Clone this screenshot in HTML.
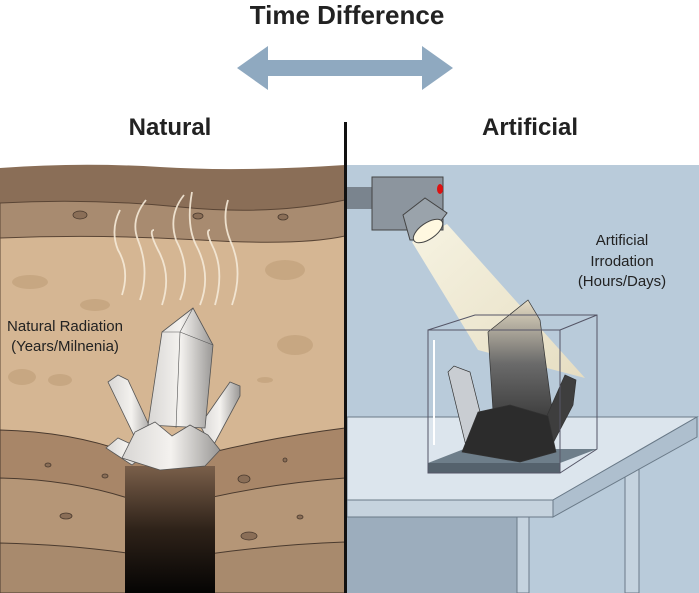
<!DOCTYPE html>
<html><head><meta charset="utf-8"><style>
html,body{margin:0;padding:0;background:#fff;}
svg{display:block;}
text{font-family:"Liberation Sans",sans-serif;}
</style></head><body>
<svg width="699" height="593" viewBox="0 0 699 593" xmlns="http://www.w3.org/2000/svg">
<defs>
<linearGradient id="shaft" x1="0" y1="0" x2="0" y2="1"><stop offset="0" stop-color="#7a5f4a"/><stop offset="0.5" stop-color="#2e2219"/><stop offset="1" stop-color="#050403"/></linearGradient>
<linearGradient id="cry" x1="0" y1="0" x2="1" y2="0"><stop offset="0" stop-color="#d8d6d4"/><stop offset="0.5" stop-color="#f4f2ef"/><stop offset="1" stop-color="#9a9896"/></linearGradient>
<linearGradient id="beam" x1="0" y1="0" x2="1" y2="1"><stop offset="0" stop-color="#fbf6e2"/><stop offset="1" stop-color="#eadfc0"/></linearGradient>
<linearGradient id="dark" x1="0" y1="0" x2="0" y2="1"><stop offset="0" stop-color="#e6dcc4"/><stop offset="0.45" stop-color="#6a6a6a"/><stop offset="1" stop-color="#2a2a2a"/></linearGradient>
</defs>
<text x="347" y="24" font-size="26" font-weight="bold" text-anchor="middle" fill="#222">Time Difference</text>
<polygon points="237,68 268,46 268,60 422,60 422,46 453,68 422,90 422,76 268,76 268,90" fill="#8fa9c0"/>
<text x="170" y="135" font-size="24" font-weight="bold" text-anchor="middle" fill="#222">Natural</text>
<text x="530" y="135" font-size="24" font-weight="bold" text-anchor="middle" fill="#222">Artificial</text>

<path d="M0,168 Q80,162 160,167 T345,165 L345,593 L0,593Z" fill="#8a6e57"/>
<path d="M0,203 Q90,198 180,207 T345,200 L345,593 L0,593Z" fill="#a88b70" stroke="#5a4535" stroke-width="1"/>
<path d="M0,238 Q100,234 200,240 T345,236 L345,593 L0,593Z" fill="#d5b693" stroke="#5a4535" stroke-width="1"/>
<path d="M0,430 Q90,432 160,466 Q250,440 345,428 L345,593 L0,593Z" fill="#a88668" stroke="#4a3a2e" stroke-width="1"/>
<path d="M0,478 Q90,480 160,510 Q250,485 345,478 L345,593 L0,593Z" fill="#b59677" stroke="#4a3a2e" stroke-width="1"/>
<path d="M0,543 Q90,545 170,560 Q260,545 345,542 L345,593 L0,593Z" fill="#a88a6d" stroke="#4a3a2e" stroke-width="1"/>
<rect x="125" y="466" width="90" height="127" fill="url(#shaft)"/>
<g fill="#c4a47f" opacity="0.8">
<ellipse cx="30" cy="282" rx="18" ry="7"/><ellipse cx="95" cy="305" rx="15" ry="6"/><ellipse cx="285" cy="270" rx="20" ry="10"/><ellipse cx="295" cy="345" rx="18" ry="10"/><ellipse cx="22" cy="377" rx="14" ry="8"/><ellipse cx="60" cy="380" rx="12" ry="6"/><ellipse cx="265" cy="380" rx="8" ry="3"/>
</g>
<g fill="#8a6e57" stroke="#4a3a2e" stroke-width="0.8">
<ellipse cx="80" cy="215" rx="7" ry="4"/><ellipse cx="198" cy="216" rx="5" ry="3"/><ellipse cx="283" cy="217" rx="5" ry="3"/><ellipse cx="244" cy="479" rx="6" ry="4"/><ellipse cx="66" cy="516" rx="6" ry="3"/><ellipse cx="249" cy="536" rx="8" ry="4"/><ellipse cx="105" cy="476" rx="3" ry="2"/><ellipse cx="48" cy="465" rx="3" ry="2"/><ellipse cx="300" cy="517" rx="3" ry="2"/><ellipse cx="285" cy="460" rx="2" ry="2"/>
</g>
<g stroke="#f5ead8" stroke-width="1.8" fill="none" opacity="0.9">
<path d="M122,295 Q130,270 118,250 Q110,230 120,210"/><path d="M140,300 Q150,270 138,240 Q130,220 146,200"/><path d="M162,305 Q172,275 158,250 Q148,230 154,230"/><path d="M180,300 Q192,270 176,240 Q168,215 184,195"/><path d="M200,305 Q212,275 196,245 Q186,225 192,192"/><path d="M215,305 Q225,270 212,245 Q205,230 210,230"/><path d="M232,305 Q244,270 230,240 Q222,220 228,200"/>
</g>
<g stroke="#555" stroke-width="0.8" fill="url(#cry)">
<polygon points="108,382 118,375 128,380 155,438 140,448"/>
<polygon points="200,425 230,382 240,386 240,396 212,448"/>
<polygon points="148,425 162,332 193,308 213,345 205,428"/>
<polygon points="106,448 118,438 148,452 132,465"/>
<polygon points="122,458 135,432 155,422 172,436 190,425 208,435 220,450 205,466 160,470"/>
</g>
<g stroke="#555" stroke-width="0.6" fill="none"><line x1="180" y1="332" x2="176" y2="428"/><line x1="162" y1="332" x2="180" y2="332"/><line x1="180" y1="332" x2="213" y2="345"/><line x1="193" y1="308" x2="180" y2="332"/></g>

<rect x="347" y="165" width="352" height="428" fill="#b9cbda"/>
<rect x="347" y="517" width="175" height="76" fill="#9cadbd"/>
<rect x="517" y="510" width="12" height="83" fill="#c5d3df" stroke="#6a7a88"/>
<rect x="625" y="465" width="14" height="128" fill="#c5d3df" stroke="#6a7a88"/>
<polygon points="347,417 697,417 553,500 347,500" fill="#dce5ed" stroke="#6a7a88"/>
<polygon points="347,500 553,500 553,517 347,517" fill="#c6d3de" stroke="#6a7a88"/>
<polygon points="553,500 697,417 697,437 553,517" fill="#aebfce" stroke="#6a7a88"/>
<polygon points="428,463 464,449 597,449 560,463" fill="#6e7e8a"/>
<rect x="428" y="463" width="132" height="10" fill="#55626d"/>
<polygon points="412,242 447,224 585,378 478,350" fill="url(#beam)" opacity="0.92"/>
<g stroke="#333" stroke-width="0.7">
<polygon points="448,372 454,366 470,372 487,440 466,446" fill="#c9cdd2"/>
<polygon points="488,332 528,300 540,320 555,432 495,442" fill="url(#dark)"/>
<polygon points="545,420 565,375 576,380 573,405 552,445" fill="#3e3e3e"/>
<polygon points="462,452 478,412 510,405 548,416 556,452 520,462" fill="#2c2c2c"/>
</g>
<g stroke="#556" stroke-width="1" fill="none"><rect x="428" y="330" width="132" height="143"/><polyline points="428,330 475,315 597,315 597,449 560,473"/><line x1="560" y1="330" x2="597" y2="315"/></g>
<line x1="434" y1="340" x2="434" y2="445" stroke="#fff" stroke-width="2"/>
<rect x="347" y="187" width="28" height="22" fill="#7a848e"/>
<rect x="372" y="177" width="71" height="53" fill="#8c959e" stroke="#444"/>
<ellipse cx="440" cy="189" rx="3" ry="5" fill="#d11"/>
<polygon points="403,215 425,198 447,213 426,240 410,240" fill="#9aa3ab" stroke="#444"/>
<ellipse cx="428" cy="231" rx="17" ry="8" transform="rotate(-35 428 231)" fill="#fff8e0" stroke="#444"/>
<rect x="344" y="122" width="3" height="471" fill="#111"/>
<g font-size="15" fill="#222">
<text x="65" y="331" text-anchor="middle">Natural Radiation</text>
<text x="65" y="351" text-anchor="middle">(Years/Milnenia)</text>
<text x="622" y="245" text-anchor="middle">Artificial</text>
<text x="622" y="266" text-anchor="middle">Irrodation</text>
<text x="622" y="286" text-anchor="middle">(Hours/Days)</text>
</g>
</svg>
</body></html>
